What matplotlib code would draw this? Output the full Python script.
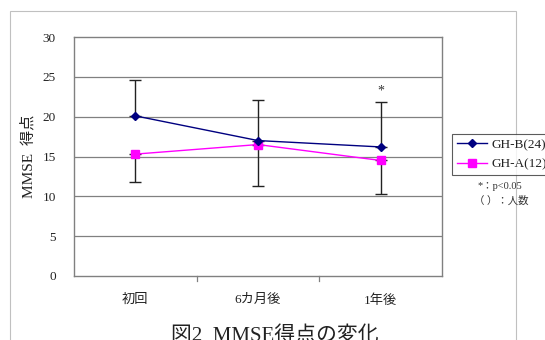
import matplotlib
matplotlib.use("Agg")
import matplotlib.pyplot as plt
from matplotlib.patches import Rectangle
from matplotlib.lines import Line2D

categories = ["初回", "6カ月後", "1年後"]
ghb_values = [20.1, 17.0, 16.2]
gha_values = [15.3, 16.5, 14.5]
ghb_err_upper = [4.5, 5.1, 5.6]
gha_err_lower = [3.5, 5.2, 4.2]
yticks = [0, 5, 10, 15, 20, 25, 30]
ghb_label = "GH-B(24)"
gha_label = "GH-A(12)"

FAM = ["Liberation Serif", "Noto Sans CJK JP"]
plt.rcParams['font.family'] = FAM

fig = plt.figure(figsize=(5.45, 3.4), dpi=100)
W, H = 545, 340
ax = fig.add_axes([74 / W, 1 - 276 / H, (442 - 74) / W, (276 - 37) / H])

# outer border
fig.patches.append(Rectangle((10 / W, -0.1), (516 - 10) / W, (1 - 11 / H) + 0.1,
                             transform=fig.transFigure, fill=False,
                             edgecolor="#c0c0c0", linewidth=0.8))

x = list(range(len(categories)))
ax.set_xlim(-0.5, len(categories) - 0.5)
ax.set_ylim(0, 30)
ax.set_yticks(yticks)
ax.set_yticklabels([str(v) for v in yticks])
ax.set_xticks(x)
ax.set_xticklabels(categories)
ax.tick_params(axis='both', length=0, labelsize=9.5, colors="#222222")
ax.tick_params(axis='x', pad=13)
ax.tick_params(axis='y', pad=13)
for lab in ax.get_xticklabels() + ax.get_yticklabels():
    lab.set_family(FAM)

for v in yticks[1:-1]:
    ax.axhline(v, color="#808080", linewidth=0.9, zorder=1)
for s in ax.spines.values():
    s.set_color("#808080")
    s.set_linewidth(1.0)

# category separator ticks on bottom
for b in [0.5, 1.5]:
    ax.plot([b, b], [0, -0.6], color="#808080", lw=0.9, clip_on=False)

ax.errorbar(x, ghb_values, yerr=[[0] * 3, ghb_err_upper], fmt='none',
            ecolor="#222222", elinewidth=1.0, capsize=4, capthick=1.0, zorder=2)
ax.errorbar(x, gha_values, yerr=[gha_err_lower, [0] * 3], fmt='none',
            ecolor="#222222", elinewidth=1.0, capsize=4, capthick=1.0, zorder=2)

ax.plot(x, ghb_values, color="#000080", marker='D', markersize=4.5, lw=1.0, zorder=4)
ax.plot(x, gha_values, color="#ff00ff", marker='s', markersize=5.5, lw=1.0, zorder=3)

ax.text(2, ghb_values[2] + ghb_err_upper[2] + 1.4, "*", ha='center', va='center',
        fontsize=10, color="#333333", family=FAM)

ax.set_ylabel("MMSE  得点", fontsize=11, family=FAM, color="#222222", labelpad=5)

# legend
handles = [Line2D([], [], color="#000080", marker='D', markersize=4.5, lw=1.0),
           Line2D([], [], color="#ff00ff", marker='s', markersize=5.5, lw=1.0)]
leg = fig.legend(handles, [ghb_label, gha_label], loc='upper left',
                 bbox_to_anchor=(452 / W, 1 - 134 / H), frameon=True,
                 fancybox=False, edgecolor="#333333", fontsize=9.5,
                 handlelength=2.3, handletextpad=0.35, borderpad=0.35,
                 labelspacing=0.55, borderaxespad=0)
leg.get_frame().set_linewidth(0.8)
for t in leg.get_texts():
    t.set_family(FAM)
    t.set_color("#222222")

fig.text(478 / W, 1 - 186 / H, "*：p<0.05", fontsize=7.5, family=FAM,
         color="#333333", ha='left', va='center')
fig.text(474 / W, 1 - 201 / H, "（ ）：人数", fontsize=7.5, family=FAM,
         color="#333333", ha='left', va='center')

fig.text(275 / W, 1 - 336 / H, "図2  MMSE得点の変化", fontsize=15, family=FAM,
         color="#222222", ha='center', va='center')

fig.savefig("out.png", dpi=100)
